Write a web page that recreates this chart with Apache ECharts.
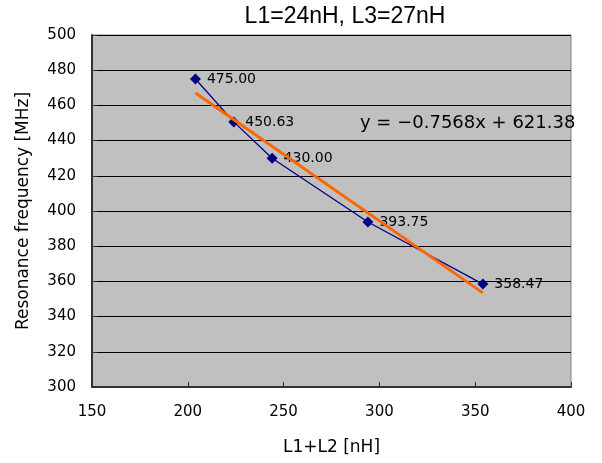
<!DOCTYPE html>
<html>
<head>
<meta charset="utf-8">
<script src="https://cdn.jsdelivr.net/npm/echarts@6/dist/echarts.min.js"></script>
<style>
html,body{margin:0;padding:0;background:#fff;}
#c{width:602px;height:463px;}
</style>
</head>
<body>
<div id="c"></div>
<script>
// Data
var inductanceSum = [204, 224, 244, 294, 354];          // L1+L2 [nH]
var resonanceFreq = [475.00, 450.63, 430.00, 393.75, 358.47]; // MHz
var trendX = [204, 354];
var trendY = [466.99, 353.47];
var titleText = 'L1=24nH, L3=27nH';
var equationText = 'y = \u22120.7568x + 621.38';
var xTicks = [150, 200, 250, 300, 350, 400];
var yTicks = [300, 320, 340, 360, 380, 400, 420, 440, 460, 480, 500];

var pts = inductanceSum.map(function (x, i) { return [x, resonanceFreq[i]]; });
var trend = trendX.map(function (x, i) { return [x, trendY[i]]; });

var chart = echarts.init(document.getElementById('c'), null, {renderer: 'canvas'});
var FONT = 'DejaVu Sans';
chart.setOption({
  backgroundColor: '#ffffff',
  animation: false,
  title: {
    text: titleText,
    left: 340, top: 0, textAlign: 'center',
    textStyle: {fontFamily: 'Liberation Sans', fontSize: 23, fontWeight: 'normal', color: '#000'}
  },
  grid: {
    left: 92, right: 31, top: 35, bottom: 76,
    show: true, backgroundColor: '#C0C0C0', borderColor: '#808080', borderWidth: 1
  },
  xAxis: {
    type: 'value', min: xTicks[0], max: xTicks[xTicks.length - 1], interval: 50,
    name: 'L1+L2 [nH]', nameLocation: 'middle', nameGap: 52,
    nameTextStyle: {fontFamily: FONT, fontSize: 17, color: '#000'},
    axisLine: {show: true, onZero: false, lineStyle: {color: '#333', width: 2}},
    axisTick: {show: true, inside: true, length: 5, lineStyle: {color: '#333'}},
    axisLabel: {fontFamily: FONT, fontSize: 15, color: '#000', margin: 18},
    splitLine: {show: false}
  },
  yAxis: {
    type: 'value', min: yTicks[0], max: yTicks[yTicks.length - 1], interval: 20,
    name: 'Resonance frequency [MHz]', nameLocation: 'middle', nameGap: 60,
    nameTextStyle: {fontFamily: FONT, fontSize: 17, color: '#000'},
    axisLine: {show: true, onZero: false, lineStyle: {color: '#333', width: 2}},
    axisTick: {show: true, inside: true, length: 5, lineStyle: {color: '#333'}},
    axisLabel: {fontFamily: FONT, fontSize: 15, color: '#000', margin: 16},
    splitLine: {show: true, lineStyle: {color: '#000', width: 1}}
  },
  series: [
    {
      type: 'line', data: pts, symbol: 'diamond', symbolSize: 11,
      itemStyle: {color: '#000080'},
      lineStyle: {color: '#000080', width: 1.3},
      label: {
        show: true, position: 'right', distance: 6,
        fontFamily: FONT, fontSize: 14, color: '#000',
        formatter: function (p) { return p.value[1].toFixed(2); }
      },
      z: 3
    },
    {
      type: 'line', data: trend, symbol: 'none',
      lineStyle: {color: '#FF6600', width: 3},
      z: 4,
      silent: true
    }
  ],
  graphic: [
    {
      type: 'text', left: 360, top: 114,
      style: {text: equationText, font: '18px "DejaVu Sans"', fill: '#000'},
      z: 10
    }
  ]
});
</script>
</body>
</html>
